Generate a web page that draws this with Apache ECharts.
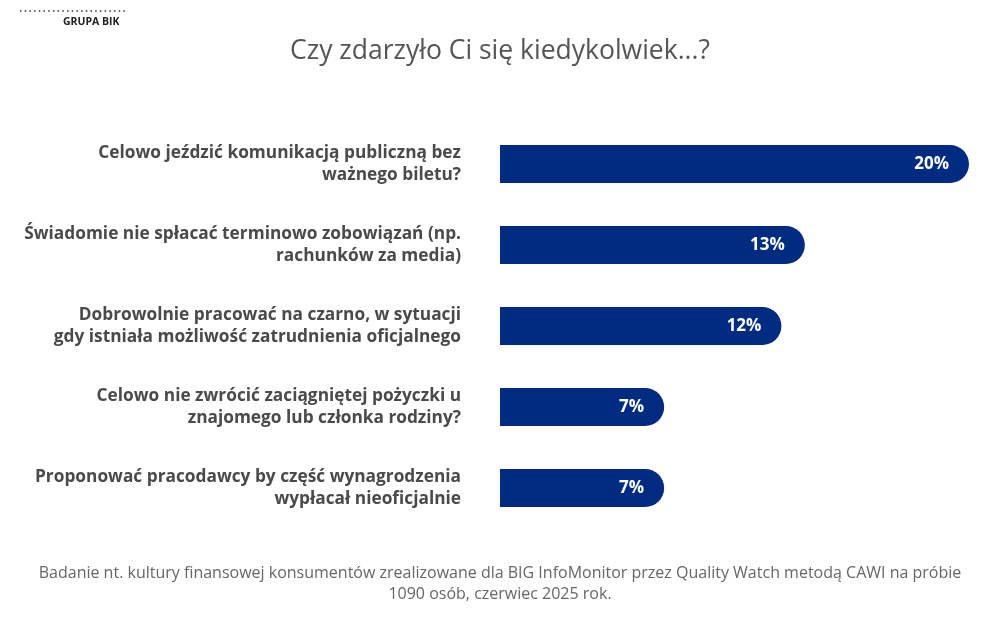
<!DOCTYPE html>
<html>
<head>
<meta charset="utf-8">
<script src="https://cdn.jsdelivr.net/npm/echarts@6/dist/echarts.min.js"></script>
<style>
  html, body { margin: 0; padding: 0; background: #fff; }
  #main { width: 1000px; height: 620px; }
</style>
</head>
<body>
<div id="main"></div>
<script>
  // dane z wykresu
  const categories = [
    'Celowo jeździć komunikacją publiczną bez\nważnego biletu?',
    'Świadomie nie spłacać terminowo zobowiązań (np.\nrachunków za media)',
    'Dobrowolnie pracować na czarno, w sytuacji\ngdy istniała możliwość zatrudnienia oficjalnego',
    'Celowo nie zwrócić zaciągniętej pożyczki u\nznajomego lub członka rodziny?',
    'Proponować pracodawcy by część wynagrodzenia\nwypłacał nieoficjalnie'
  ];
  const values = [20, 13, 12, 7, 7];

  const titleText = 'Czy zdarzyło Ci się kiedykolwiek...?';
  const footerText = 'Badanie nt. kultury finansowej konsumentów zrealizowane dla BIG InfoMonitor przez Quality Watch metodą CAWI na próbie\n1090 osób, czerwiec 2025 rok.';

  const font = '"Open Sans", "Noto Sans", sans-serif';

  let myChart = echarts.init(document.getElementById('main'));
  myChart.setOption({
    backgroundColor: '#fff',
    animation: false,
    title: {
      text: titleText,
      left: 'center',
      top: 33,
      textStyle: { fontFamily: font, fontSize: 26.5, fontWeight: 'normal', color: '#555' }
    },
    graphic: [
      {
        type: 'line',
        shape: { x1: 20, y1: 11, x2: 125, y2: 11 },
        style: { stroke: '#333', lineWidth: 1.5, lineDash: [1.5, 3.2] }
      },
      {
        type: 'text',
        left: 63,
        top: 17,
        style: { text: 'GRUPA BIK', fontFamily: font, fontSize: 10.5, fontWeight: 'bold', fill: '#222' }
      },
      {
        type: 'text',
        x: 500,
        y: 563,
        style: {
          text: footerText,
          fontFamily: font,
          fontSize: 16,
          lineHeight: 21,
          fill: '#666',
          align: 'center'
        }
      }
    ],
    grid: { left: 500, right: 31, top: 123.5, bottom: 91.5 },
    xAxis: {
      type: 'value',
      min: 0,
      max: 20,
      show: false
    },
    yAxis: {
      type: 'category',
      data: categories,
      inverse: true,
      axisLine: { show: false },
      axisTick: { show: false },
      axisLabel: {
        margin: 39,
        fontFamily: font,
        fontSize: 17.3,
        fontWeight: 'bold',
        color: '#4a4a4a',
        lineHeight: 22,
        align: 'right',
        backgroundColor: 'rgba(255,255,255,0)',
        padding: [11, 0, 0, 0]
      }
    },
    series: [
      {
        type: 'bar',
        data: values,
        barWidth: 38,
        itemStyle: { color: '#002b80', borderRadius: [0, 19, 19, 0] },
        label: {
          show: true,
          position: 'insideRight',
          distance: 20,
          formatter: '{c}%',
          fontFamily: font,
          fontSize: 17,
          fontWeight: 'bold',
          color: '#fff'
        }
      }
    ]
  });
</script>
</body>
</html>
